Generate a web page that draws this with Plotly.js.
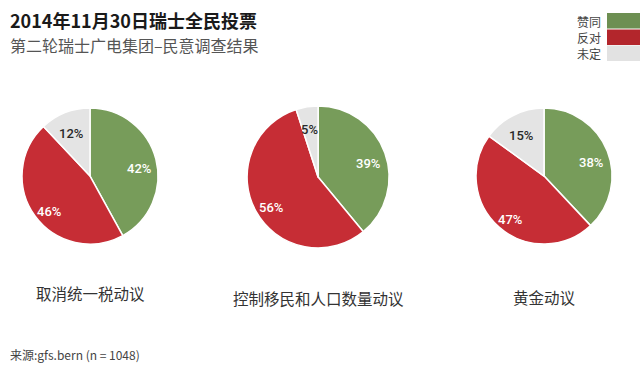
<!DOCTYPE html>
<html>
<head>
<meta charset="utf-8">
<script src="https://cdn.plot.ly/plotly-3.0.1.min.js"></script>
<style>html,body{margin:0;padding:0;background:#fff;}#chart{width:640px;height:375px;}</style>
</head>
<body>
<div id="chart"></div>
<script>
// Data
const categories = ["赞同", "反对", "未定"];
const initiatives = ["取消统一税动议", "控制移民和人口数量动议", "黄金动议"];
const tax = [42, 46, 12];
const immigration = [39, 56, 5];
const gold = [38, 47, 15];

const seriesList = [tax, immigration, gold];
const sliceColors = ["#779c5a", "#c62d35", "#e4e4e4"];
const legendColors = ["#6d8f52", "#b3262c", "#e2e2e2"];
const textColors = ["#ffffff", "#ffffff", "#2a2a2a"];

const W = 640, H = 375;
const domains = [
  {x: [0.0344, 0.2469], y: [0.349, 0.712]},
  {x: [0.386, 0.608], y: [0.3387, 0.7173]},
  {x: [0.7438, 0.9563], y: [0.349, 0.712]}
];

const traces = seriesList.map((vals, i) => ({
  type: "pie",
  labels: categories,
  values: vals,
  sort: false,
  direction: "clockwise",
  rotation: 0,
  domain: domains[i],
  marker: {colors: sliceColors, line: {color: "#ffffff", width: 1.5}},
  textinfo: "none",
  hoverinfo: "label+value",
  showlegend: false
}));

const annotations = [
  {text: "<b>2014年11月30日瑞士全民投票</b>", x: 8/W, y: 1 - 20/H, xref: "paper", yref: "paper", xanchor: "left", yanchor: "middle", showarrow: false,
   font: {family: "Noto Sans CJK SC, sans-serif", size: 18, color: "#1a1a1a"}},
  {text: "第二轮瑞士广电集团–民意调查结果", x: 8/W, y: 1 - 45/H, xref: "paper", yref: "paper", xanchor: "left", yanchor: "middle", showarrow: false,
   font: {family: "Noto Sans CJK SC, sans-serif", size: 16, color: "#555555"}},
  {text: "来源:gfs.bern (n = 1048)", x: 8/W, y: 1 - 354/H, xref: "paper", yref: "paper", xanchor: "left", yanchor: "middle", showarrow: false,
   font: {family: "Noto Sans CJK SC, sans-serif", size: 12, color: "#444444"}}
];

// percentage labels placed along each slice's mid-angle, derived from the data
seriesList.forEach((vals, i) => {
  const d = domains[i];
  const cx = (d.x[0] + d.x[1]) / 2 * W;
  const cy = (d.y[0] + d.y[1]) / 2 * H;
  const r = Math.min((d.x[1] - d.x[0]) * W, (d.y[1] - d.y[0]) * H) / 2;
  const total = vals.reduce((a, b) => a + b, 0);
  let cum = 0;
  vals.forEach((v, j) => {
    const mid = (cum + v / 2) / total * 2 * Math.PI;
    cum += v;
    const rr = r * 0.75;
    annotations.push({
      text: v + "%", x: (cx + rr * Math.sin(mid)) / W, y: (cy + rr * Math.cos(mid)) / H,
      xref: "paper", yref: "paper", xanchor: "center", yanchor: "middle", showarrow: false, yshift: -5,
      font: {family: "Roboto, sans-serif", size: 13, weight: 500, color: textColors[j]}
    });
  });
});

const titleY = [293, 298, 297];
const titleX = [90, 318, 544];
initiatives.forEach((t, i) => annotations.push({
  text: t, x: titleX[i]/W, y: 1 - titleY[i]/H, xref: "paper", yref: "paper", xanchor: "center", yanchor: "middle", showarrow: false,
  font: {family: "Noto Sans CJK SC, sans-serif", size: 15.5, color: "#333333"}
}));

const legendTop = [13, 29.5, 45.5];
const shapes = [];
categories.forEach((c, i) => {
  shapes.push({type: "rect", xref: "paper", yref: "paper", x0: 607/W, x1: 1, y0: 1 - (legendTop[i] + 15.5)/H, y1: 1 - legendTop[i]/H,
    fillcolor: legendColors[i], line: {width: 0}});
  annotations.push({text: c, x: 603/W, y: 1 - (legendTop[i] + 8)/H, xref: "paper", yref: "paper", xanchor: "right", yanchor: "middle", showarrow: false,
    font: {family: "Noto Sans CJK SC, sans-serif", size: 12, color: "#444444"}});
});

const layout = {
  width: W, height: H,
  margin: {l: 0, r: 0, t: 0, b: 0},
  paper_bgcolor: "#ffffff",
  plot_bgcolor: "#ffffff",
  annotations: annotations,
  shapes: shapes,
  showlegend: false
};

Plotly.newPlot("chart", traces, layout, {displayModeBar: false, staticPlot: true});
</script>
</body>
</html>
